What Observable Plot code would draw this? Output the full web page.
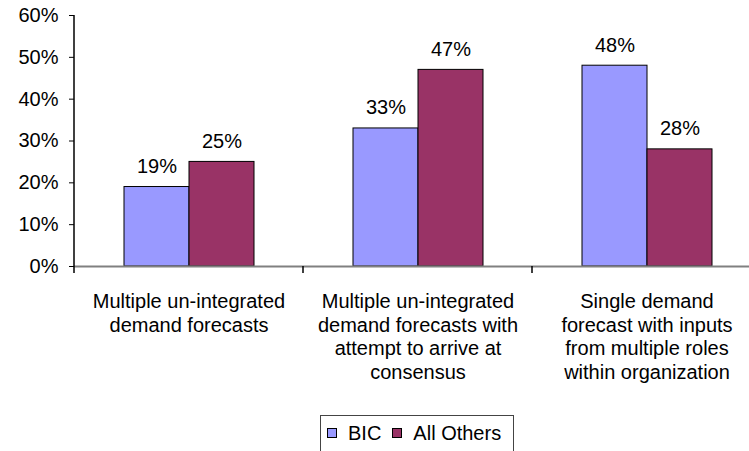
<!DOCTYPE html>
<html>
<head>
<meta charset="utf-8">
<script src="https://cdn.jsdelivr.net/npm/d3@7"></script>
<script src="https://cdn.jsdelivr.net/npm/@observablehq/plot@0.6"></script>
<style>
  html, body { margin: 0; padding: 0; background: #fff; overflow: hidden; }
  body { font-family: "Liberation Sans", Arial, sans-serif; }
  #legend {
    display: inline-flex;
    align-items: center;
    margin-left: 320px;
    margin-top: 5px;
    height: 40px;
    box-sizing: border-box;
    padding: 8px 12px 12px 6px;
    border: 1px solid #444;
    font-size: 20px;
    line-height: 20px;
    color: #000;
  }
  #legend .item { display: flex; align-items: center; height: 20px; }
  #legend .item + .item { margin-left: 11px; }
  #legend .swatch { width: 10px; height: 10px; box-sizing: border-box; border: 1px solid #000; margin-right: 11px; }
</style>
</head>
<body>
<div id="chart"></div>
<script>
// Forecasting approaches (one group of bars each)
const categories = [
  "Multiple un-integrated\ndemand forecasts",
  "Multiple un-integrated\ndemand forecasts with\nattempt to arrive at\nconsensus",
  "Single demand\nforecast with inputs\nfrom multiple roles\nwithin organization"
];
const seriesNames = ["BIC", "All Others"];
const bicValues = [0.19, 0.33, 0.48];
const othersValues = [0.25, 0.47, 0.28];
const yTicks = [0, 0.1, 0.2, 0.3, 0.4, 0.5, 0.6];
const seriesColors = ["#9999FF", "#993366"];

const rows = categories.flatMap((category, i) => [
  {category, series: seriesNames[0], value: bicValues[i]},
  {category, series: seriesNames[1], value: othersValues[i]}
]);

const pct = d => Math.round(d * 100) + "%";

// Short tick marks on the category axis at each group's left edge,
// plus the vertical value axis line on the first group.
const groupEdges = Plot.ruleY(categories, {
  fx: d => d,
  y: () => 0,
  render(index, scales) {
    const [x0] = scales.x.range();
    const y0 = scales.y(0);
    const g = d3.create("svg:g").attr("stroke", "#000").attr("stroke-width", 1.5);
    g.append("line").attr("x1", x0).attr("x2", x0).attr("y1", y0).attr("y2", y0 + 7);
    if (index.some(i => categories[i] === categories[0])) {
      g.append("line").attr("x1", x0).attr("x2", x0)
        .attr("y1", scales.y(yTicks[yTicks.length - 1])).attr("y2", y0);
    }
    return g.node();
  }
});

const chart = Plot.plot({
  width: 749,
  height: 410,
  marginLeft: 73,
  marginRight: 0,
  marginTop: 15,
  marginBottom: 144,
  style: {fontFamily: "'Liberation Sans', Arial, sans-serif", fontSize: "20px", color: "#000", background: "#fff", overflow: "hidden"},
  fx: {domain: categories, range: [73, 762], padding: 0, axis: null},
  x: {domain: seriesNames, paddingInner: 0, paddingOuter: 0.74, axis: null},
  y: {domain: [0, 0.6], axis: null},
  color: {domain: seriesNames, range: seriesColors},
  marks: [
    Plot.barY(rows, {fx: "category", x: "series", y: "value", fill: "series", stroke: "#000", strokeWidth: 1}),
    Plot.ruleY([0], {stroke: "#808080", strokeWidth: 2}),
    Plot.text(rows, {fx: "category", x: "series", y: "value", text: d => pct(d.value), lineAnchor: "bottom", dy: -14, fontSize: 20, fill: "#000"}),
    Plot.axisY({ticks: yTicks, tickSize: 5, tickPadding: 11, tickFormat: pct, fontSize: 20, label: null, stroke: "#000"}),
    Plot.axisFx({anchor: "bottom", tickSize: 0, tickPadding: 25, fontSize: 20, lineHeight: 1.18, label: null}),
    groupEdges
  ]
});

document.getElementById("chart").append(chart);

// Legend below the chart
const legend = d3.select("body").append("div").attr("id", "legend");
seriesNames.forEach((name, i) => {
  const item = legend.append("div").attr("class", "item");
  item.append("div").attr("class", "swatch").style("background", seriesColors[i]);
  item.append("span").text(name);
});
</script>
</body>
</html>
